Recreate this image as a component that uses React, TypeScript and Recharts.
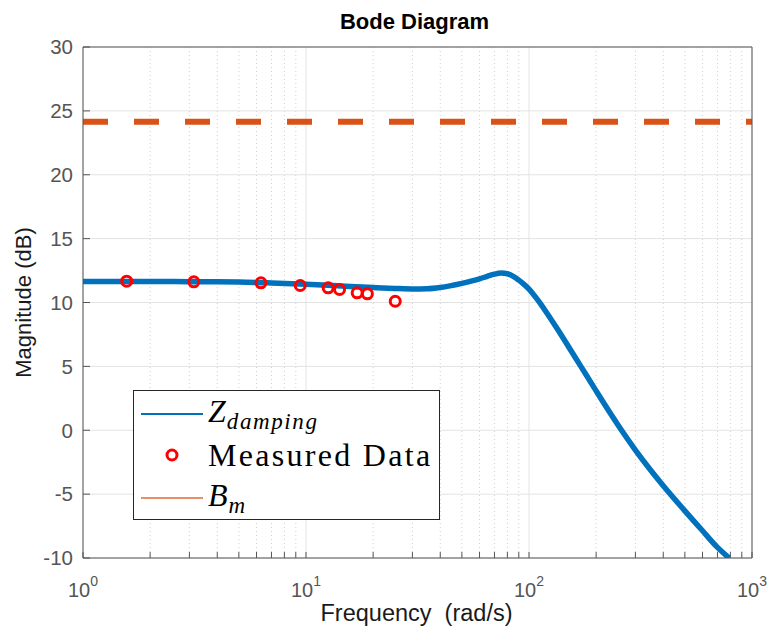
import React from "react";
import {
  CartesianGrid,
  ComposedChart,
  Label,
  Legend,
  Line,
  Scatter,
  XAxis,
  YAxis,
} from "recharts";

// frequency response (rad/s, dB)
const curveFreq = [
  1, 2, 3, 5, 7, 10, 15, 20, 25, 30, 35, 40, 50, 60, 65, 70, 75, 80, 85, 90, 95,
  100, 110, 120, 135, 150, 170, 200, 230, 260, 300, 350, 400, 500, 600, 700, 790,
];
const curveMag = [
  11.65, 11.65, 11.63, 11.6, 11.53, 11.43, 11.28, 11.17, 11.1, 11.06, 11.08,
  11.18, 11.5, 11.85, 12.05, 12.22, 12.3, 12.25, 12.05, 11.75, 11.42, 11.05,
  10.14, 9.2, 7.84, 6.58, 5.06, 3.08, 1.41, 0.0, -1.55, -3.09, -4.34, -6.31,
  -7.87, -9.17, -10.0,
];

const measuredFreq = [1.57, 3.14, 6.28, 9.42, 12.57, 14.14, 16.96, 18.85, 25.13];
const measuredMag = [11.67, 11.62, 11.54, 11.33, 11.15, 11.02, 10.76, 10.68, 10.1];

const bmFreq = [1, 1000];
const bmMag = [24.14, 24.14];

const decadeTicks = [1, 10, 100, 1000];
const minorTicks = [
  2, 3, 4, 5, 6, 7, 8, 9, 20, 30, 40, 50, 60, 70, 80, 90, 200, 300, 400, 500,
  600, 700, 800, 900,
];
const magTicks = [-10, -5, 0, 5, 10, 15, 20, 25, 30];

const BLUE = "#0072BD";
const ORANGE = "#D95319";
const RED = "#FF0000";
const AXIS = "#555555";
const SANS = "'Liberation Sans', Arial, Helvetica, sans-serif";
const SERIF = "'Liberation Serif', 'Times New Roman', serif";

const curveData = curveFreq.map((f, i) => ({ f, mag: curveMag[i] }));
const measuredData = measuredFreq.map((f, i) => ({ f, mag: measuredMag[i] }));
const bmData = bmFreq.map((f, i) => ({ f, mag: bmMag[i] }));
const allXTicks = [...decadeTicks, ...minorTicks].sort((a, b) => a - b);

const DecadeTick = (props: any) => {
  const { x, y, payload } = props;
  const exp = Math.round(Math.log10(payload.value));
  if (Math.abs(Math.pow(10, exp) - payload.value) > 1e-9) return <g />;
  return (
    <text x={x} y={y} textAnchor="middle" fill={AXIS} fontSize={20} fontFamily={SANS}>
      10
      <tspan dy={-11} fontSize={14}>
        {exp}
      </tspan>
    </text>
  );
};

const Ring = (props: any) => (
  <circle cx={props.cx} cy={props.cy} r={5} fill="none" stroke={RED} strokeWidth={3} />
);

const LegendBox = () => {
  const row: React.CSSProperties = {
    position: "absolute",
    left: 0,
    height: 42,
    width: "100%",
    display: "flex",
    alignItems: "center",
  };
  const sample: React.CSSProperties = { width: 74, position: "relative", height: 42, flex: "none" };
  const text: React.CSSProperties = {
    fontFamily: SERIF,
    fontSize: 32,
    lineHeight: "42px",
    color: "#000",
    letterSpacing: 2.3,
    whiteSpace: "nowrap",
  };
  const sub: React.CSSProperties = {
    fontSize: 23,
    position: "relative",
    top: 7,
    letterSpacing: 1.6,
  };
  return (
    <div
      style={{
        width: 305,
        height: 128,
        border: "1px solid #262626",
        background: "#fff",
        position: "relative",
      }}
    >
      <div style={{ ...row, top: 1 }}>
        <div style={sample}>
          <div style={{ position: "absolute", left: 7, top: 21, width: 62, height: 1.5, background: BLUE }} />
        </div>
        <span style={text}>
          <i style={{ letterSpacing: 1 }}>Z</i>
          <i style={sub}>damping</i>
        </span>
      </div>
      <div style={{ ...row, top: 43 }}>
        <div style={sample}>
          <svg width={74} height={42} style={{ position: "absolute", left: 0, top: 0 }}>
            <circle cx={38} cy={21} r={5} fill="none" stroke={RED} strokeWidth={3} />
          </svg>
        </div>
        <span style={text}>Measured Data</span>
      </div>
      <div style={{ ...row, top: 85 }}>
        <div style={sample}>
          <div
            style={{ position: "absolute", left: 7, top: 21, width: 62, height: 1.5, background: ORANGE, opacity: 0.65 }}
          />
        </div>
        <span style={text}>
          <i style={{ letterSpacing: 1 }}>B</i>
          <i style={sub}>m</i>
        </span>
      </div>
    </div>
  );
};

export default function App() {
  return (
    <div style={{ position: "absolute", left: 0, top: 0, background: "#fff" }}>
      <ComposedChart
        width={769}
        height={629}
        margin={{ top: 46, right: 16, bottom: 4, left: 5 }}
      >
        <CartesianGrid
          verticalValues={minorTicks}
          horizontal={false}
          stroke="#d0d0d0"
          strokeDasharray="1 3"
        />
        <CartesianGrid
          verticalValues={decadeTicks}
          horizontalValues={magTicks}
          stroke="#e3e3e3"
        />
        <XAxis
          dataKey="f"
          type="number"
          scale="log"
          domain={[1, 1000]}
          allowDataOverflow
          ticks={allXTicks}
          interval={0}
          height={67}
          stroke={AXIS}
          tickSize={-6}
          tickMargin={45}
          tick={<DecadeTick />}
        >
          <Label
            content={(p: any) => (
              <text
                x={p.viewBox.x + p.viewBox.width / 2 - 1}
                y={p.viewBox.y + 63}
                textAnchor="middle"
                fill="#1a1a1a"
                fontSize={23.5}
                fontFamily={SANS}
                style={{ whiteSpace: "pre" }}
              >
                {"Frequency  (rad/s)"}
              </text>
            )}
          />
        </XAxis>
        <XAxis
          xAxisId="top"
          orientation="top"
          dataKey="f"
          type="number"
          scale="log"
          domain={[1, 1000]}
          allowDataOverflow
          ticks={allXTicks}
          interval={0}
          height={1}
          stroke={AXIS}
          tickSize={-6}
          tick={false}
        >
          <Label
            content={(p: any) => (
              <text
                x={p.viewBox.x + p.viewBox.width / 2 - 3}
                y={p.viewBox.y - 17}
                textAnchor="middle"
                fill="#000"
                fontSize={22}
                fontWeight="bold"
                fontFamily={SANS}
              >
                Bode Diagram
              </text>
            )}
          />
        </XAxis>
        <YAxis
          type="number"
          domain={[-10, 30]}
          allowDataOverflow
          ticks={magTicks}
          interval={0}
          width={78}
          stroke={AXIS}
          tickSize={-7}
          tickMargin={17}
          tick={{ fill: AXIS, fontSize: 20.5, fontFamily: SANS }}
        >
          <Label
            content={(p: any) => {
              const cx = p.viewBox.x + 18;
              const cy = p.viewBox.y + p.viewBox.height / 2;
              return (
                <text
                  x={cx}
                  y={cy}
                  transform={`rotate(-90 ${cx} ${cy})`}
                  textAnchor="middle"
                  dominantBaseline="central"
                  fill="#1a1a1a"
                  fontSize={22}
                  fontFamily={SANS}
                >
                  Magnitude (dB)
                </text>
              );
            }}
          />
        </YAxis>
        <YAxis
          yAxisId="right"
          orientation="right"
          type="number"
          domain={[-10, 30]}
          allowDataOverflow
          ticks={magTicks}
          interval={0}
          width={1}
          stroke={AXIS}
          tickSize={-7}
          tick={false}
        />
        <Line
          data={bmData}
          dataKey="mag"
          type="linear"
          stroke={ORANGE}
          strokeWidth={6}
          strokeDasharray="25 26"
          dot={false}
          activeDot={false}
          isAnimationActive={false}
        />
        <Line
          data={curveData}
          dataKey="mag"
          type="monotone"
          stroke={BLUE}
          strokeWidth={5.5}
          dot={false}
          activeDot={false}
          isAnimationActive={false}
        />
        <Scatter
          data={measuredData}
          dataKey="mag"
          shape={<Ring />}
          isAnimationActive={false}
        />
        <Legend
          layout="vertical"
          align="center"
          verticalAlign="middle"
          wrapperStyle={{ left: 133, top: 390, width: 307, height: 130 }}
          content={() => <LegendBox />}
        />
      </ComposedChart>
    </div>
  );
}
